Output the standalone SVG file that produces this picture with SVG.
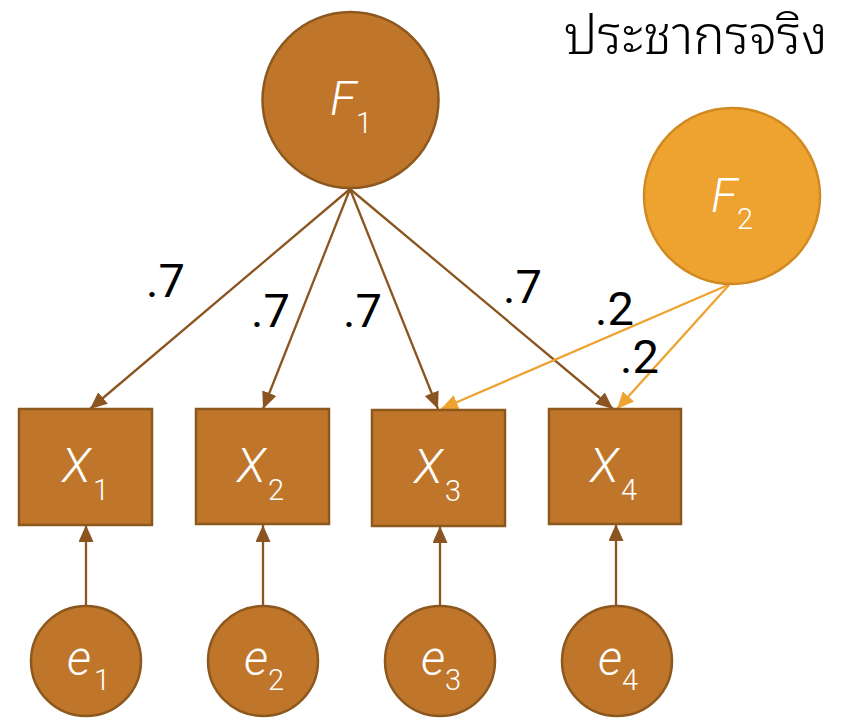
<svg xmlns="http://www.w3.org/2000/svg" width="844" height="718" viewBox="0 0 844 718">
  <style>
    .brown { fill: #C0762A; stroke: #8C581E; stroke-width: 2.5; }
    .gold { fill: #EEA22F; stroke: #D18A22; stroke-width: 2.5; }
    .lbl { fill: #FFFFFF; font-family: Roboto, "Liberation Sans", sans-serif; font-weight: 300; font-style: italic; font-size: 48px; }
    .sub { fill: #FFFFFF; font-family: Roboto, "Liberation Sans", sans-serif; font-weight: 300; font-size: 29px; }
    .coef { fill: #000000; font-family: Roboto, "Liberation Sans", sans-serif; font-weight: 400; font-size: 47px; }
    .title { fill: #000000; font-family: "Noto Sans Thai Looped", Loma, Garuda, Norasi, "Noto Sans Thai", "Noto Sans", sans-serif; font-weight: 300; font-size: 53px; }
    .edge-b { stroke: #8A5520; stroke-width: 2.3; fill: none; marker-end: url(#headB); }
    .edge-o { stroke: #EEA22F; stroke-width: 2.3; fill: none; marker-end: url(#headO); }
  </style>
  <defs>
    <marker id="headB" markerUnits="userSpaceOnUse" viewBox="0 0 17 15" markerWidth="17" markerHeight="15" refX="17" refY="7.5" orient="auto">
      <path d="M0,0 L17,7.5 L0,15 z" fill="#8A5520"/>
    </marker>
    <marker id="headO" markerUnits="userSpaceOnUse" viewBox="0 0 17 15" markerWidth="17" markerHeight="15" refX="17" refY="7.5" orient="auto">
      <path d="M0,0 L17,7.5 L0,15 z" fill="#EEA22F"/>
    </marker>
  </defs>

  <text class="title" x="564" y="54">ประชากรจริง</text>

  <!-- loadings and error paths -->
  <g id="connectors">
    <line class="edge-b" x1="350" y1="189" x2="90" y2="409"/>
    <line class="edge-b" x1="350" y1="189" x2="263" y2="409"/>
    <line class="edge-b" x1="350" y1="189" x2="438" y2="409"/>
    <line class="edge-b" x1="350" y1="189" x2="613" y2="409"/>
    <line class="edge-o" x1="728" y1="285" x2="441" y2="409"/>
    <line class="edge-o" x1="729" y1="285" x2="617" y2="409"/>
    <line class="edge-b" x1="86" y1="606" x2="86" y2="525"/>
    <line class="edge-b" x1="263" y1="606" x2="263" y2="525"/>
    <line class="edge-b" x1="440" y1="606" x2="440" y2="526"/>
    <line class="edge-b" x1="616" y1="606" x2="616" y2="524"/>
    <text class="coef" x="146" y="297">.7</text>
    <text class="coef" x="251" y="327">.7</text>
    <text class="coef" x="343" y="327">.7</text>
    <text class="coef" x="503" y="303">.7</text>
    <text class="coef" x="595" y="325">.2</text>
    <text class="coef" x="620" y="373">.2</text>
  </g>

  <g id="F1">
    <circle class="brown" cx="350.5" cy="100" r="88"/>
    <text class="lbl" x="330" y="115">F</text><text class="sub" x="356" y="133">1</text>
  </g>
  <g id="F2">
    <circle class="gold" cx="732" cy="196" r="88"/>
    <text class="lbl" x="711" y="212">F</text><text class="sub" x="737" y="229">2</text>
  </g>

  <g id="X1">
    <rect class="brown" x="19" y="409" width="133" height="116"/>
    <text class="lbl" x="62" y="482">X</text><text class="sub" x="93" y="500">1</text>
  </g>
  <g id="X2">
    <rect class="brown" x="196" y="409" width="133" height="115"/>
    <text class="lbl" x="237" y="482">X</text><text class="sub" x="268" y="500">2</text>
  </g>
  <g id="X3">
    <rect class="brown" x="372" y="410" width="133" height="116"/>
    <text class="lbl" x="414" y="483">X</text><text class="sub" x="445" y="501">3</text>
  </g>
  <g id="X4">
    <rect class="brown" x="549" y="409" width="132" height="115"/>
    <text class="lbl" x="590" y="482">X</text><text class="sub" x="621" y="500">4</text>
  </g>

  <g id="e1">
    <circle class="brown" cx="86" cy="661" r="55"/>
    <text class="lbl" x="67" y="675">e</text><text class="sub" x="94" y="690">1</text>
  </g>
  <g id="e2">
    <circle class="brown" cx="263" cy="661" r="55"/>
    <text class="lbl" x="244" y="675">e</text><text class="sub" x="268" y="690">2</text>
  </g>
  <g id="e3">
    <circle class="brown" cx="440" cy="661" r="55"/>
    <text class="lbl" x="421" y="675">e</text><text class="sub" x="445" y="690">3</text>
  </g>
  <g id="e4">
    <circle class="brown" cx="617" cy="661" r="55"/>
    <text class="lbl" x="598" y="675">e</text><text class="sub" x="622" y="690">4</text>
  </g>
</svg>
